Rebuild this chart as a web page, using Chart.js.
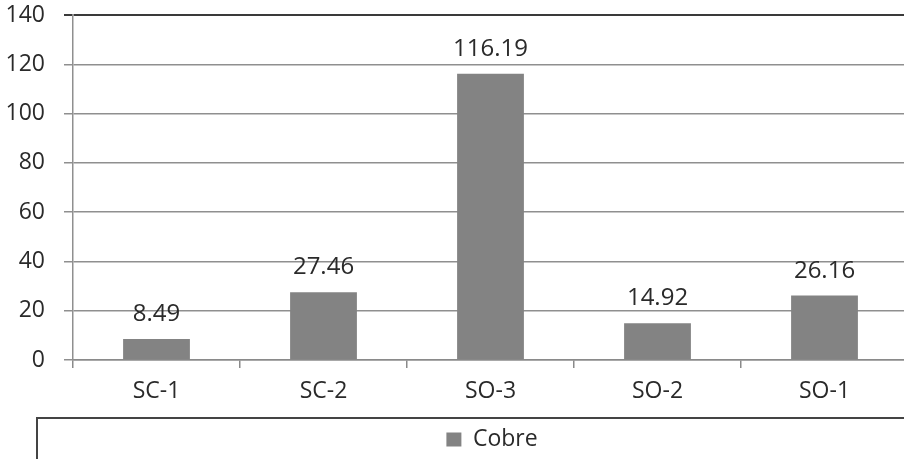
<!DOCTYPE html>
<html>
<head>
<meta charset="utf-8">
<script src="https://cdn.jsdelivr.net/npm/chart.js@4/dist/chart.umd.min.js"></script>
<style>
html,body{margin:0;padding:0;background:#fff;overflow:hidden;}
#wrap{width:983px;height:459px;position:relative;}
</style>
</head>
<body>
<div id="wrap"><canvas id="c"></canvas></div>
<script>
const categories = ['SC-1', 'SC-2', 'SO-3', 'SO-2', 'SO-1'];
const cobre = [8.49, 27.46, 116.19, 14.92, 26.16];
const seriesName = 'Cobre';
const yTicks = [0, 20, 40, 60, 80, 100, 120, 140];

const FONT = '"Open Sans", Lato, sans-serif';
const TXT = '#2a2a2a';

const valueLabels = {
  id: 'valueLabels',
  afterDatasetsDraw(chart) {
    const ctx = chart.ctx;
    const meta = chart.getDatasetMeta(0);
    ctx.save();
    ctx.font = '24px ' + FONT;
    ctx.fillStyle = TXT;
    ctx.textAlign = 'center';
    ctx.textBaseline = 'alphabetic';
    meta.data.forEach((el, i) => {
      ctx.fillText(cobre[i].toFixed(2), el.x, el.y - 18);
    });
    ctx.restore();
  }
};

const legendShift = {
  id: 'legendShift',
  afterLayout(chart) {
    chart.legend.left += 38;
    chart.legend.right += 38;
    chart.legend.top += 2;
    chart.legend.bottom += 2;
  }
};

const legendFrame = {
  id: 'legendFrame',
  afterDraw(chart) {
    const lg = chart.legend;
    const ctx = chart.ctx;
    ctx.save();
    ctx.strokeStyle = '#444444';
    ctx.lineWidth = 2;
    ctx.strokeRect(chart.chartArea.left - 36, lg.top - 4, chart.width + 50, 100);
    ctx.restore();
  }
};

new Chart(document.getElementById('c'), {
  type: 'bar',
  data: {
    labels: categories,
    datasets: [{
      label: seriesName,
      data: cobre,
      backgroundColor: '#838383',
      borderWidth: 0,
      barPercentage: 0.4,
      categoryPercentage: 1.0
    }]
  },
  options: {
    responsive: true,
    maintainAspectRatio: false,
    animation: false,
    layout: { padding: { top: 15, right: 75, left: 0, bottom: 0 } },
    plugins: {
      legend: {
        position: 'bottom',
        labels: {
          color: TXT,
          font: { family: FONT, size: 23 },
          boxWidth: 15,
          boxHeight: 14,
          padding: 6
        }
      },
      tooltip: { enabled: false }
    },
    scales: {
      x: {
        offset: true,
        grid: {
          offset: true,
          drawOnChartArea: false,
          drawTicks: true,
          tickLength: 8,
          color: '#8a8a8a',
          lineWidth: 1.5
        },
        border: { display: true, color: '#8a8a8a', width: 1.5 },
        ticks: {
          color: TXT,
          font: { family: FONT, size: 23 },
          padding: 10,
          maxRotation: 0
        },
        afterFit(scale) { scale.height = 60; }
      },
      y: {
        min: 0,
        max: 140,
        afterBuildTicks(scale) { scale.ticks = yTicks.map(v => ({ value: v })); },
        grid: {
          color: (c) => (c.tick && c.tick.value === 140 ? '#3a3a3a' : '#8f8f8f'),
          lineWidth: (c) => (c.tick && c.tick.value === 140 ? 2 : 1.5),
          tickLength: 9,
          drawTicks: true
        },
        border: { display: true, color: '#8f8f8f', width: 1.5 },
        ticks: {
          color: TXT,
          font: { family: FONT, size: 23 },
          padding: 19
        },
        afterFit(scale) {
          scale.width = 73;
          scale.paddingTop = 14;
          scale.paddingBottom = 14;
        }
      }
    }
  },
  plugins: [valueLabels, legendShift, legendFrame]
});
</script>
</body>
</html>
